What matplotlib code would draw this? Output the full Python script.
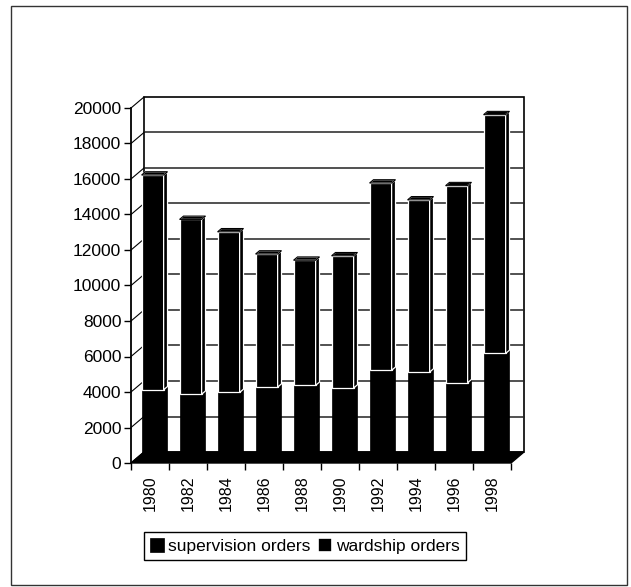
import matplotlib
matplotlib.use("Agg")
import matplotlib.pyplot as plt
from matplotlib.patches import Polygon, Rectangle, Patch

# --- Data ---
years = ["1980", "1982", "1984", "1986", "1988", "1990", "1992", "1994", "1996", "1998"]
supervision = [4000, 3750, 3850, 4150, 4250, 4100, 5100, 5000, 4400, 6050]
wardship = [12100, 9850, 9050, 7500, 7050, 7450, 10550, 9700, 11100, 13450]
y_ticks = list(range(0, 20001, 2000))

plt.rcParams['font.family'] = ['Liberation Sans', 'DejaVu Sans']

W, H = 631, 587
fig = plt.figure(figsize=(W / 100, H / 100), dpi=100)
# front plane of the fake 3D chart: x 131..511 px, y 463..108 px
ax = fig.add_axes([131 / W, (H - 463) / H, 380 / W, 355 / H])
ax.set_xlim(-0.5, len(years) - 0.5)
ax.set_ylim(0, 20000)

# depth offset of the back wall, in data units (13 px right, 11 px up)
DX = 13 / 38
DY = 11 * 20000 / 355
x_left, x_right = -0.5, len(years) - 0.5

# back wall + gridlines
ax.add_patch(Rectangle((x_left + DX, DY), x_right - x_left, 20000, facecolor='white',
                       edgecolor='black', lw=1.2, clip_on=False, zorder=1))
for v in y_ticks[1:-1]:
    ax.plot([x_left + DX, x_right + DX], [v + DY, v + DY], color='#222222', lw=1.1,
            clip_on=False, zorder=1.5)
# left side wall
for v in y_ticks:
    ax.plot([x_left, x_left + DX], [v, v + DY], color='black', lw=0.8, clip_on=False, zorder=1.5)

# floor
ax.add_patch(Polygon([(x_left, 0), (x_right, 0), (x_right + DX, DY), (x_left + DX, DY)],
                     closed=True, facecolor='black', edgecolor='black', lw=1,
                     clip_on=False, zorder=2))

# bars with a little depth
bw = 0.58
f = 0.2      # how far the front face sits behind the front plane
d = 0.3      # bar depth, as a fraction of the wall offset


def box(x0, ybot, ytop, white_edges):
    ec = 'white' if white_edges else 'black'
    lw = 0.9 if white_edges else 0.5
    ax.add_patch(Rectangle((x0, ybot), bw, ytop - ybot, facecolor='black', edgecolor=ec,
                           lw=lw, clip_on=False, zorder=3))
    side = [(x0 + bw, ybot), (x0 + bw + d * DX, ybot + d * DY),
            (x0 + bw + d * DX, ytop + d * DY), (x0 + bw, ytop)]
    ax.add_patch(Polygon(side, closed=True, facecolor='black', edgecolor=ec, lw=lw,
                         clip_on=False, zorder=3))


for i, (s, w) in enumerate(zip(supervision, wardship)):
    x0 = i - bw / 2 + f * DX
    base = f * DY
    box(x0, base, base + s, False)
    box(x0, base + s, base + s + w, True)
    top = base + s + w
    cap = [(x0, top), (x0 + bw, top), (x0 + bw + d * DX, top + d * DY), (x0 + d * DX, top + d * DY)]
    ax.add_patch(Polygon(cap, closed=True, facecolor='black', edgecolor='white', lw=0.9,
                         clip_on=False, zorder=3.5))
    ax.add_patch(Polygon(cap, closed=True, fill=False, edgecolor='black', lw=0.8,
                         clip_on=False, zorder=3.6))

# axes styling
for side in ['top', 'right', 'bottom']:
    ax.spines[side].set_visible(False)
ax.spines['left'].set_linewidth(1.3)
ax.spines['left'].set_zorder(4)
ax.set_yticks(y_ticks)
ax.set_yticklabels([str(v) for v in y_ticks])
ax.tick_params(axis='y', direction='out', length=5, width=1, pad=2, labelsize=12.5)
ax.set_xticks(range(len(years)))
ax.set_xticklabels(years, rotation=90, fontsize=11.5)
ax.tick_params(axis='x', length=0, pad=9)
ax.set_xticks([i - 0.5 for i in range(len(years) + 1)], minor=True)
ax.tick_params(axis='x', which='minor', direction='out', length=5, width=1)
ax.patch.set_visible(False)

# legend
h_sup = Patch(facecolor='black', edgecolor='black', lw=0.5)
h_ward = Patch(facecolor='black', edgecolor='white', lw=1.2)
leg = fig.legend([h_sup, h_ward], ['supervision orders', 'wardship orders'], ncol=2,
                 loc='lower left', bbox_to_anchor=(144 / W, (H - 560) / H),
                 fontsize=12.5, handlelength=0.8, handleheight=0.8, handletextpad=0.25,
                 columnspacing=0.4, borderpad=0.35, borderaxespad=0, fancybox=False,
                 framealpha=1)
leg.get_frame().set_edgecolor('black')
leg.get_frame().set_linewidth(1)

# outer frame
fig.add_artist(Rectangle((11 / W, 2 / H), 616 / W, 579 / H, transform=fig.transFigure,
                         fill=False, edgecolor='#333333', lw=1))

fig.savefig("out.png", dpi=100)
